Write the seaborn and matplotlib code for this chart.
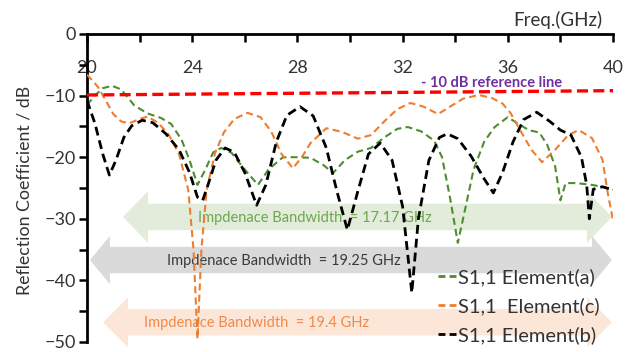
import matplotlib
matplotlib.use("Agg")
import matplotlib.pyplot as plt
from matplotlib.patches import Polygon
from matplotlib.lines import Line2D
import pandas as pd
import seaborn as sns

# Frequency sweep (GHz) and reflection coefficient (dB) of each element
freq_a = [20.0, 20.3, 20.6, 20.95, 21.3, 21.8, 22.3, 22.8, 23.2, 23.6, 23.9, 24.2, 24.5, 24.8,
          25.1, 25.5, 25.9, 26.5, 26.9, 27.45, 28.0, 28.5, 29.0, 29.35, 29.8, 30.3, 30.8, 31.3,
          31.8, 32.2, 32.7, 33.2, 33.5, 33.8, 34.1, 34.4, 34.7, 35.1, 35.5, 36.0, 36.4, 36.8,
          37.2, 37.5, 37.8, 38.0, 38.2, 38.6, 39.2, 39.6, 40.0]
s11_a = [-11.5, -10.0, -8.8, -8.4, -9.0, -11.6, -12.9, -13.6, -14.6, -17.2, -20.5, -24.5, -22.0, -19.2,
         -18.5, -19.3, -21.5, -24.5, -22.0, -20.0, -20.0, -20.1, -21.3, -22.6, -20.5, -19.1, -18.5, -16.8,
         -15.4, -15.1, -15.8, -17.3, -20.0, -26.5, -33.9, -28.0, -22.0, -17.5, -15.1, -13.5, -14.6, -15.6,
         -16.0, -18.0, -21.5, -27.0, -24.2, -24.2, -24.5, -24.8, -25.3]

freq_c = [20.0, 20.4, 20.7, 21.0, 21.3, 21.6, 22.0, 22.3, 22.7, 23.1, 23.5, 23.85, 24.05, 24.2,
          24.35, 24.55, 24.87, 25.2, 25.6, 26.1, 26.6, 27.0, 27.4, 27.83, 28.2, 28.5, 29.1, 29.7,
          30.3, 30.8, 31.3, 31.8, 32.3, 32.8, 33.35, 33.8, 34.3, 34.9, 35.4, 35.8, 36.1, 36.4,
          36.9, 37.3, 37.8, 38.3, 38.7, 39.2, 39.6, 39.8, 40.0]
s11_c = [-6.6, -8.5, -10.7, -13.0, -14.2, -14.5, -13.8, -13.4, -14.4, -16.3, -19.5, -25.3, -35.0, -49.5,
         -35.0, -25.3, -19.3, -16.0, -13.8, -12.8, -13.5, -15.8, -19.5, -21.8, -19.8, -17.7, -15.3, -15.9,
         -17.0, -16.4, -14.2, -12.2, -11.2, -11.8, -13.0, -11.8, -10.5, -9.9, -10.4, -11.3, -12.8, -15.1,
         -18.8, -20.8, -18.8, -16.4, -15.6, -16.9, -20.4, -25.8, -30.2]

freq_b = [20.0, 20.3, 20.6, 20.85, 21.1, 21.4, 21.7, 22.1, 22.5, 23.0, 23.5, 23.9, 24.2, 24.4,
          24.6, 24.9, 25.25, 25.6, 26.0, 26.45, 26.8, 27.2, 27.6, 28.1, 28.6, 29.1, 29.5, 29.9,
          30.3, 30.7, 31.15, 31.6, 32.0, 32.35, 32.6, 33.0, 33.4, 33.7, 34.1, 34.6, 35.1, 35.45,
          35.8, 36.2, 36.6, 37.1, 37.6, 38.0, 38.4, 38.8, 39.0, 39.1, 39.25, 39.6, 40.0]
s11_b = [-10.8, -14.5, -19.5, -22.9, -20.5, -16.8, -14.9, -14.0, -14.4, -16.2, -18.8, -22.5, -26.5, -27.0,
         -24.5, -20.5, -18.5, -19.2, -22.5, -27.8, -24.5, -17.5, -13.2, -11.8, -13.3, -18.5, -25.5, -31.8,
         -25.5, -19.5, -17.7, -20.5, -28.0, -42.0, -30.0, -20.5, -16.8, -16.2, -17.0, -19.8, -23.5, -25.8,
         -22.5, -17.5, -13.9, -12.7, -14.2, -15.6, -16.4, -20.0, -24.5, -30.0, -25.2, -24.8, -25.3]

# -10 dB reference line end points
ref_freq = [20.0, 40.0]
ref_level = [-9.9, -9.2]

# Impedance-bandwidth arrows: start / end (GHz), centre level (dB), label
bw_labels = ["Impdenace Bandwidth  = 17.17 GHz",
             "Impdenace Bandwidth  = 19.25 GHz",
             "Impdenace Bandwidth  = 19.4 GHz"]
bw_start = [21.37, 20.11, 20.61]
bw_end = [39.96, 39.96, 39.96]
bw_level = [-29.7, -36.7, -46.8]

legend_labels = ["S1,1 Element(a)", "S1,1  Element(c)", "S1,1 Element(b)"]

GREEN = "#4E8C2F"
ORANGE = "#ED7D31"
BLACK = "#000000"
TEXT = "#333333"

sns.set_theme(style="white")
plt.rcParams["font.family"] = ["Lato", "DejaVu Sans"]

fig = plt.figure(figsize=(6.35, 3.52), dpi=100)
ax = fig.add_axes([87 / 635, 1 - 342 / 352, (613 - 87) / 635, (342 - 34) / 352])


def double_arrow(x0, x1, yc, body_h, head_h, head_len, face):
    pts = [(x0, yc), (x0 + head_len, yc + head_h / 2), (x0 + head_len, yc + body_h / 2),
           (x1 - head_len, yc + body_h / 2), (x1 - head_len, yc + head_h / 2), (x1, yc),
           (x1 - head_len, yc - head_h / 2), (x1 - head_len, yc - body_h / 2),
           (x0 + head_len, yc - body_h / 2), (x0 + head_len, yc - head_h / 2)]
    ax.add_patch(Polygon(pts, closed=True, facecolor=face, edgecolor="none",
                         zorder=1, clip_on=False))


arrow_faces = ["#E3ECDB", "#DADADA", "#FCE6D8"]
text_colors = ["#6AA84F", "#3A3A3A", "#F08A4B"]
head_heights = [8.4, 7.8, 8.1]
head_lengths = [0.95, 0.76, 0.95]
for x0, x1, yc, hh, hl, face in zip(bw_start, bw_end, bw_level, head_heights,
                                    head_lengths, arrow_faces):
    double_arrow(x0, x1, yc, 4.3, hh, hl, face)

text_x = [28.67, 27.49, 26.43]
for tx, yc, tc, lab in zip(text_x, bw_level, text_colors, bw_labels):
    ax.text(tx, yc - 0.1, lab, color=tc, fontsize=10.5, ha="center", va="center", zorder=2)

# Reflection curves
curves = [(freq_a, s11_a, GREEN, 1.5, (3.4, 2.0)),
          (freq_c, s11_c, ORANGE, 1.5, (3.4, 2.0)),
          (freq_b, s11_b, BLACK, 2.0, (3.2, 1.8))]
for fx, fy, col, lw, dash in curves:
    df = pd.DataFrame({"f": fx, "s": fy})
    sns.lineplot(data=df, x="f", y="s", ax=ax, color=col, lw=lw, sort=False,
                 estimator=None, zorder=3)
    ax.lines[-1].set_dashes(dash)

# -10 dB reference line
sns.lineplot(x=ref_freq, y=ref_level, ax=ax, color="#FF0000", lw=2.4, zorder=3)
ax.lines[-1].set_dashes((3.3, 1.6))
ax.text(35.4, -8.0, "- 10 dB reference line", color="#7030A0", fontsize=10.5,
        fontweight="bold", ha="center", va="center")

ax.set_xlim(20, 40)
ax.set_ylim(-50, 0)
ax.set_xlabel("")
ax.set_ylabel("")

for side in ["right", "bottom"]:
    ax.spines[side].set_visible(False)
for side in ["left", "top"]:
    ax.spines[side].set_color("black")
    ax.spines[side].set_linewidth(2.0)

ax.xaxis.tick_top()
ax.set_xticks(range(20, 41, 4))
ax.set_xticks(range(20, 41, 2), minor=True)
ax.tick_params(axis="x", which="both", direction="in", length=6, width=1.8, color="black",
               top=True, bottom=False, labeltop=True, labelbottom=False, pad=-30,
               labelsize=13, labelcolor=TEXT)
ax.set_yticks(range(-50, 1, 10))
ax.set_yticks(range(-50, 1, 5), minor=True)
ax.tick_params(axis="y", which="both", direction="out", length=6, width=1.8, color="black",
               left=True, pad=2, labelsize=13, labelcolor=TEXT)

fig.text(558 / 635, 1 - 20 / 352, "Freq.(GHz)", fontsize=13.5, color=TEXT,
         ha="center", va="center")
fig.text(25 / 635, 1 - 190 / 352, "Reflection Coefficient / dB", fontsize=12.8,
         color=TEXT, rotation=90, ha="center", va="center")

handles = [Line2D([], [], color=GREEN, lw=2.0, dashes=(2.5, 1.5)),
           Line2D([], [], color=ORANGE, lw=2.0, dashes=(2.5, 1.5)),
           Line2D([], [], color=BLACK, lw=2.0, dashes=(2.5, 1.5))]
leg = ax.legend(handles, legend_labels, loc="upper left",
                bbox_to_anchor=(428 / 635, 1 - 258 / 352), bbox_transform=fig.transFigure,
                frameon=False, fontsize=14.5, handlelength=0.9, handletextpad=0.1,
                labelspacing=0.55, borderpad=0.0)
for t in leg.get_texts():
    t.set_color(TEXT)

fig.savefig("out.png", dpi=100)
